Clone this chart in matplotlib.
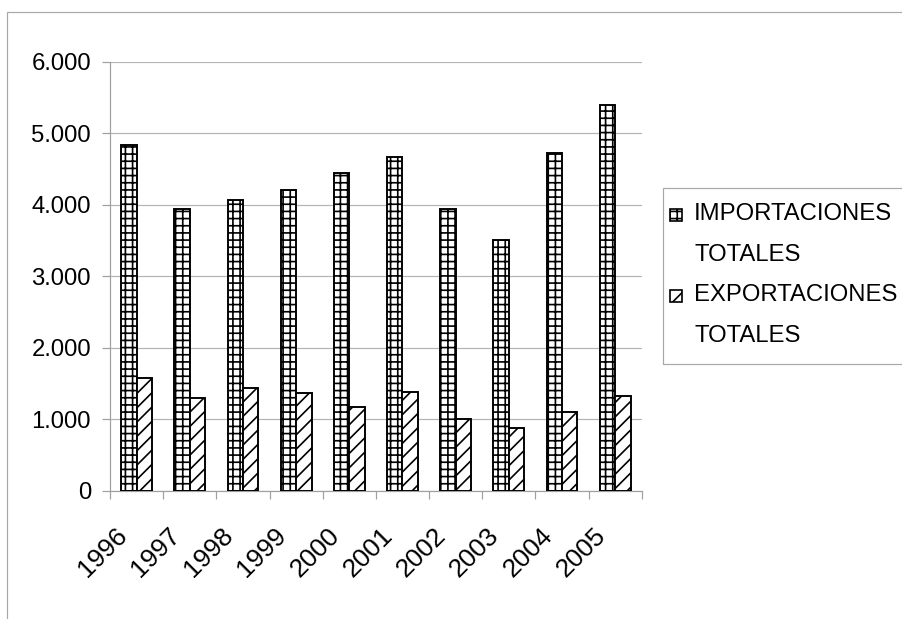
import matplotlib
matplotlib.use("Agg")
import matplotlib.pyplot as plt
import matplotlib.transforms as mtransforms
from matplotlib.patches import Rectangle
from matplotlib.ticker import FuncFormatter, FixedLocator
import numpy as np

years = ["1996", "1997", "1998", "1999", "2000", "2001", "2002", "2003", "2004", "2005"]
importaciones = [4830, 3940, 4060, 4200, 4440, 4670, 3940, 3510, 4730, 5400]
exportaciones = [1570, 1300, 1430, 1370, 1170, 1380, 1000, 870, 1100, 1330]
series_labels = ["IMPORTACIONES\nTOTALES", "EXPORTACIONES\nTOTALES"]

W, H = 902, 619
DPI = 86

plt.rcParams["font.family"] = ["Liberation Sans", "DejaVu Sans"]
plt.rcParams["hatch.linewidth"] = 1.4
plt.rcParams["hatch.color"] = "black"

fig = plt.figure(figsize=(W / DPI, H / DPI), dpi=DPI)
ax = fig.add_axes([110 / W, 1 - 490.7 / H, 531.7 / W, 429 / H])

x = np.arange(len(years))
bw = 0.29
ax.bar(x - bw / 2, importaciones, bw, facecolor="white", edgecolor="black",
       linewidth=1.6, hatch="++", zorder=3)
ax.bar(x + bw / 2, exportaciones, bw, facecolor="white", edgecolor="black",
       linewidth=1.6, hatch="//", zorder=3)

ax.set_xlim(-0.5, len(years) - 0.5)
ax.set_ylim(0, 6000)
ax.set_yticks(range(0, 6001, 1000))
ax.yaxis.set_major_formatter(FuncFormatter(lambda v, p: f"{v:,.0f}".replace(",", ".")))
ax.grid(axis="y", color="#b4b4b4", linewidth=1.0, zorder=0)

# year labels at the centres, tick marks on the category borders
ax.set_xticks(x)
ax.set_xticklabels(years, rotation=45, ha="right", va="top")
ax.xaxis.set_minor_locator(FixedLocator(np.arange(-0.5, len(years), 1.0)))
ax.tick_params(axis="x", which="major", length=0, pad=27, labelsize=22)
ax.tick_params(axis="x", which="minor", length=7, color="#a0a0a0", width=1)
ax.tick_params(axis="y", length=7, color="#a0a0a0", width=1, pad=9, labelsize=20)
shift = mtransforms.ScaledTranslation(-5 / DPI, 0, fig.dpi_scale_trans)
for lbl in ax.get_xticklabels():
    lbl.set_transform(lbl.get_transform() + shift)

for side in ["top", "right"]:
    ax.spines[side].set_visible(False)
for side in ["left", "bottom"]:
    ax.spines[side].set_color("#a0a0a0")
    ax.spines[side].set_linewidth(1)

# chart area border
fig.add_artist(Rectangle((7 / W, -0.1), 2, 1.1 - 12 / H, transform=fig.transFigure,
                         fill=False, edgecolor="#a8a8a8", linewidth=1))

# legend box
fig.add_artist(Rectangle((663 / W, 1 - 364 / H), 0.4, 176 / H, transform=fig.transFigure,
                         fill=False, edgecolor="#a8a8a8", linewidth=1))
for i, (hatch, label) in enumerate(zip(["++", "//"], series_labels)):
    base = 220 + i * 80.7
    fig.add_artist(Rectangle((670 / W, 1 - (base + 1) / H), 12 / W, 12 / H,
                             transform=fig.transFigure, facecolor="white",
                             edgecolor="black", linewidth=1.4, hatch=hatch))
    for j, line in enumerate(label.split("\n")):
        fig.text(694 / W, 1 - (base + j * 41) / H, line, fontsize=20,
                 va="baseline", ha="left")

fig.savefig("out.png", dpi=DPI)
